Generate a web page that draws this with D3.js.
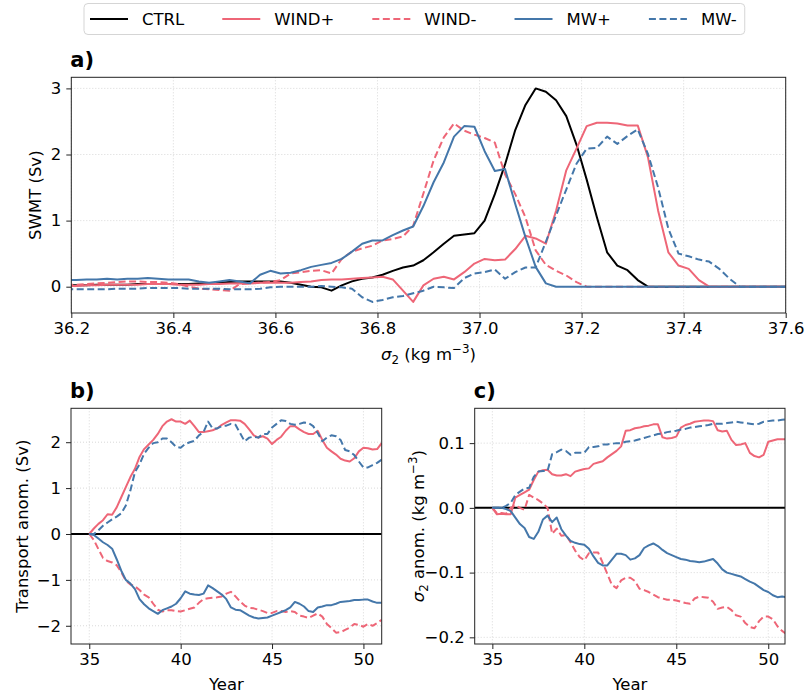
<!DOCTYPE html>
<html>
<head>
<meta charset="utf-8">
<script src="https://cdn.jsdelivr.net/npm/d3@7"></script>
<style>
  body { margin: 0; background: #fff; }
  svg text { font-family: "DejaVu Sans", sans-serif; fill: #000; }
</style>
</head>
<body>
<svg id="fig" width="806" height="693"></svg>
<script>
// ---- panel a: SWMT vs sigma2 ----
const sigma = [36.19, 36.21, 36.23, 36.25, 36.27, 36.29, 36.31, 36.33, 36.35, 36.37,
  36.39, 36.41, 36.43, 36.45, 36.47, 36.49, 36.51, 36.53, 36.55, 36.57,
  36.59, 36.61, 36.63, 36.65, 36.67, 36.69, 36.71, 36.73, 36.75, 36.77,
  36.79, 36.81, 36.83, 36.85, 36.87, 36.89, 36.91, 36.93, 36.95, 36.97,
  36.99, 37.01, 37.03, 37.05, 37.07, 37.09, 37.11, 37.13, 37.15, 37.17,
  37.19, 37.21, 37.23, 37.25, 37.27, 37.29, 37.31, 37.33, 37.35, 37.37,
  37.39, 37.41, 37.43, 37.45, 37.47, 37.49, 37.51, 37.53, 37.55, 37.57,
  37.59, 37.61];

const swmtCtrl = [0.02, 0.02, 0.02, 0.03, 0.03, 0.03, 0.03, 0.04, 0.04, 0.04,
  0.04, 0.04, 0.04, 0.05, 0.05, 0.06, 0.07, 0.08, 0.08, 0.08,
  0.08, 0.08, 0.06, 0.03, 0.0, -0.01, -0.06, 0.02, 0.08, 0.12,
  0.14, 0.18, 0.24, 0.29, 0.32, 0.40, 0.52, 0.65, 0.77, 0.79,
  0.81, 1.00, 1.40, 1.85, 2.37, 2.75, 3.00, 2.95, 2.82, 2.58,
  2.15, 1.62, 1.05, 0.52, 0.32, 0.25, 0.10, 0.0, 0, 0,
  0, 0, 0, 0, 0, 0, 0, 0, 0, 0,
  0, 0];

const swmtWindP = [0.01, 0.01, 0.02, 0.02, 0.03, 0.03, 0.03, 0.03, 0.04, 0.04,
  0.04, 0.03, 0.03, 0.03, 0.04, 0.04, 0.05, 0.05, 0.05, 0.06,
  0.06, 0.06, 0.06, 0.07, 0.08, 0.10, 0.11, 0.11, 0.12, 0.13,
  0.14, 0.15, 0.11, -0.06, -0.23, 0.02, 0.12, 0.15, 0.11, 0.22,
  0.35, 0.42, 0.40, 0.41, 0.57, 0.77, 0.73, 0.65, 1.15, 1.76,
  2.09, 2.43, 2.48, 2.48, 2.47, 2.44, 2.44, 1.96, 1.15, 0.52,
  0.32, 0.27, 0.10, 0.0, 0, 0, 0, 0, 0, 0,
  0, 0];

const swmtWindM = [0.03, 0.03, 0.04, 0.05, 0.06, 0.07, 0.08, 0.08, 0.07, 0.07,
  0.06, 0.04, 0.0, -0.03, -0.04, -0.05, -0.06, 0.04, 0.05, 0.06,
  0.07, 0.10, 0.20, 0.22, 0.24, 0.25, 0.20, 0.42, 0.53, 0.58,
  0.62, 0.70, 0.72, 0.76, 0.92, 1.41, 1.91, 2.26, 2.47, 2.36,
  2.30, 2.25, 2.18, 1.70, 1.40, 1.05, 0.55, 0.33, 0.24, 0.17,
  0.07, 0.0, 0, 0, 0, 0, 0, 0, 0, 0,
  0, 0, 0, 0, 0, 0, 0, 0, 0, 0,
  0, 0];

const swmtMwP = [0.10, 0.10, 0.11, 0.11, 0.12, 0.11, 0.12, 0.12, 0.13, 0.12,
  0.11, 0.11, 0.11, 0.08, 0.06, 0.08, 0.10, 0.08, 0.05, 0.18,
  0.24, 0.20, 0.21, 0.25, 0.30, 0.33, 0.36, 0.42, 0.53, 0.65,
  0.70, 0.70, 0.78, 0.85, 0.91, 1.22, 1.58, 1.88, 2.27, 2.43,
  2.42, 2.05, 1.75, 1.78, 1.25, 0.75, 0.30, 0.05, 0.0, 0,
  0, 0, 0, 0, 0, 0, 0, 0, 0, 0,
  0, 0, 0, 0, 0, 0, 0, 0, 0, 0,
  0, 0];

const swmtMwM = [-0.04, -0.04, -0.04, -0.04, -0.04, -0.03, -0.03, -0.03, -0.02, -0.02,
  -0.02, -0.02, -0.03, -0.03, -0.03, -0.03, -0.04, -0.04, -0.04, -0.03,
  -0.01, 0.0, 0.0, 0.0, 0.0, 0.01, 0.0, -0.01, -0.03, -0.16,
  -0.23, -0.20, -0.16, -0.14, -0.10, -0.06, 0.0, -0.01, -0.02, 0.13,
  0.20, 0.22, 0.26, 0.12, 0.22, 0.29, 0.29, 0.68, 1.08, 1.47,
  1.86, 2.09, 2.10, 2.27, 2.16, 2.28, 2.38, 2.01, 1.50, 0.88,
  0.50, 0.46, 0.41, 0.38, 0.27, 0.12, 0.0, 0, 0, 0,
  0, 0];

// ---- panels b and c: time series ----
const years = [35, 35.25, 35.5, 35.75, 36, 36.25, 36.5, 36.75,
  37, 37.25, 37.5, 37.75, 38, 38.25, 38.5, 38.75,
  39, 39.25, 39.5, 39.75, 40, 40.25, 40.5, 40.75,
  41, 41.25, 41.5, 41.75, 42, 42.25, 42.5, 42.75,
  43, 43.25, 43.5, 43.75, 44, 44.25, 44.5, 44.75,
  45, 45.25, 45.5, 45.75, 46, 46.25, 46.5, 46.75,
  47, 47.25, 47.5, 47.75, 48, 48.25, 48.5, 48.75,
  49, 49.25, 49.5, 49.75, 50, 50.25, 50.5, 50.75,
  51];

const transWindP = [0.0, 0.12, 0.22, 0.30, 0.43, 0.42, 0.58, 0.80,
  1.02, 1.24, 1.42, 1.68, 1.85, 1.95, 2.05, 2.18,
  2.35, 2.45, 2.50, 2.45, 2.45, 2.40, 2.47, 2.35,
  2.22, 2.22, 2.24, 2.26, 2.30, 2.38, 2.43, 2.48,
  2.48, 2.47, 2.40, 2.28, 2.15, 2.10, 2.13, 2.08,
  1.96, 2.05, 2.12, 2.25, 2.35, 2.35, 2.28, 2.22,
  2.18, 2.18, 2.25, 2.05, 1.88, 1.80, 1.73, 1.64,
  1.60, 1.58, 1.65, 1.80, 1.88, 1.87, 1.84, 1.85,
  1.98];

const transWindM = [0.0, -0.13, -0.33, -0.52, -0.59, -0.62, -0.68, -0.83,
  -1.02, -1.10, -1.14, -1.22, -1.32, -1.38, -1.52, -1.65,
  -1.69, -1.66, -1.66, -1.68, -1.69, -1.66, -1.63, -1.60,
  -1.50, -1.42, -1.40, -1.39, -1.38, -1.36, -1.30, -1.26,
  -1.36, -1.47, -1.56, -1.61, -1.62, -1.65, -1.68, -1.72,
  -1.72, -1.68, -1.68, -1.70, -1.68, -1.70, -1.78, -1.80,
  -1.83, -1.78, -1.73, -1.80, -1.96, -2.05, -2.15, -2.14,
  -2.09, -2.04, -1.96, -1.98, -2.02, -1.96, -2.00, -1.94,
  -1.87];

const transMwP = [0.0, -0.02, -0.10, -0.18, -0.24, -0.32, -0.55, -0.80,
  -1.00, -1.08, -1.20, -1.42, -1.53, -1.62, -1.68, -1.74,
  -1.66, -1.62, -1.58, -1.52, -1.40, -1.25, -1.30, -1.32,
  -1.33, -1.30, -1.12, -1.18, -1.25, -1.32, -1.42, -1.60,
  -1.65, -1.66, -1.72, -1.78, -1.82, -1.84, -1.83, -1.82,
  -1.78, -1.74, -1.70, -1.66, -1.60, -1.48, -1.52, -1.58,
  -1.68, -1.70, -1.60, -1.58, -1.55, -1.55, -1.52, -1.48,
  -1.47, -1.46, -1.44, -1.44, -1.43, -1.43, -1.47, -1.50,
  -1.50];

const transMwM = [0.0, 0.0, 0.08, 0.18, 0.25, 0.32, 0.38, 0.45,
  0.62, 0.95, 1.35, 1.52, 1.75, 1.88, 1.98, 2.00,
  2.08, 2.08, 2.00, 1.90, 1.88, 1.96, 2.00, 2.03,
  2.15, 2.22, 2.45, 2.30, 2.30, 2.35, 2.36, 2.40,
  2.38, 2.20, 2.02, 2.10, 2.12, 2.10, 2.18, 2.18,
  2.32, 2.40, 2.48, 2.46, 2.40, 2.38, 2.40, 2.43,
  2.42, 2.35, 2.20, 2.02, 2.10, 2.15, 2.13, 2.05,
  1.83, 1.80, 1.72, 1.58, 1.45, 1.45, 1.50, 1.55,
  1.62];

const densWindP = [0.0, -0.010, -0.009, -0.010, -0.010, 0.016, 0.020, 0.024,
  0.028, 0.043, 0.056, 0.058, 0.059, 0.052, 0.050, 0.050,
  0.052, 0.049, 0.056, 0.058, 0.060, 0.061, 0.068, 0.070,
  0.072, 0.078, 0.083, 0.088, 0.095, 0.119, 0.120, 0.123,
  0.124, 0.126, 0.127, 0.129, 0.129, 0.109, 0.107, 0.108,
  0.110, 0.124, 0.128, 0.130, 0.133, 0.134, 0.135, 0.135,
  0.134, 0.120, 0.118, 0.119, 0.105, 0.097, 0.098, 0.100,
  0.085, 0.080, 0.078, 0.082, 0.102, 0.104, 0.106, 0.106,
  0.106];

const densWindM = [0.0, -0.008, -0.008, -0.009, 0.0, 0.004, 0.0, -0.003,
  0.020, 0.016, 0.012, 0.007, 0.0, -0.040, -0.032, -0.043,
  -0.042, -0.053, -0.066, -0.076, -0.081, -0.070, -0.069, -0.069,
  -0.085, -0.102, -0.119, -0.124, -0.112, -0.108, -0.108, -0.113,
  -0.125, -0.127, -0.130, -0.134, -0.138, -0.140, -0.142, -0.142,
  -0.143, -0.145, -0.147, -0.148, -0.140, -0.137, -0.138, -0.139,
  -0.145, -0.156, -0.154, -0.153, -0.158, -0.166, -0.168, -0.178,
  -0.184, -0.186, -0.175, -0.168, -0.168, -0.172, -0.183, -0.190,
  -0.195];

const densMwP = [0.0, 0.0, 0.0, -0.002, -0.005, -0.015, -0.025, -0.031,
  -0.045, -0.048, -0.037, -0.018, -0.012, -0.022, -0.015, -0.033,
  -0.043, -0.051, -0.054, -0.056, -0.057, -0.063, -0.075, -0.085,
  -0.089, -0.089, -0.080, -0.071, -0.071, -0.073, -0.080, -0.078,
  -0.073, -0.062, -0.058, -0.055, -0.059, -0.065, -0.070, -0.073,
  -0.076, -0.079, -0.080, -0.082, -0.083, -0.084, -0.083, -0.081,
  -0.079, -0.086, -0.095, -0.100, -0.102, -0.104, -0.106, -0.110,
  -0.114, -0.117, -0.122, -0.127, -0.130, -0.135, -0.138, -0.137,
  -0.138];

const densMwM = [0.0, 0.0, 0.0, 0.003, 0.008, 0.020, 0.025, 0.030,
  0.031, 0.048, 0.056, 0.057, 0.057, 0.083, 0.086, 0.090,
  0.088, 0.082, 0.085, 0.085, 0.085, 0.094, 0.094, 0.095,
  0.098, 0.098, 0.099, 0.100, 0.100, 0.102, 0.103, 0.104,
  0.106, 0.108, 0.110, 0.112, 0.114, 0.115, 0.117, 0.118,
  0.119, 0.121, 0.122, 0.124, 0.125, 0.126, 0.127, 0.128,
  0.130, 0.130, 0.130, 0.131, 0.132, 0.133, 0.132, 0.131,
  0.130, 0.129, 0.130, 0.133, 0.134, 0.135, 0.135, 0.136,
  0.137];

const runNames = ['CTRL', 'WIND+', 'WIND-', 'MW+', 'MW-'];
const sigmaTicks = [36.2, 36.4, 36.6, 36.8, 37.0, 37.2, 37.4, 37.6];
const swmtTicks = [0, 1, 2, 3];
const yearTicks = [35, 40, 45, 50];
const transTicks = [-2, -1, 0, 1, 2];
const densTicks = [-0.2, -0.1, 0.0, 0.1];

// run styles
const RED = '#EE6677', BLUE = '#4477AA';
const style = {
  'CTRL':  { color: '#000', dash: null },
  'WIND+': { color: RED, dash: null },
  'WIND-': { color: RED, dash: '7,3.5' },
  'MW+':   { color: BLUE, dash: null },
  'MW-':   { color: BLUE, dash: '7,3.5' }
};

const FS = 16.5;
const svg = d3.select('#fig');
let clipId = 0;

// text with math-ish parts: {t, it, sub, sup}
function richText(sel, parts) {
  let shift = 0;
  parts.forEach(p => {
    const target = p.sub ? 4 : p.sup ? -7 : 0;
    const ts = sel.append('tspan').text(p.t).attr('dy', target - shift);
    shift = target;
    if (p.sub || p.sup) ts.attr('font-size', FS * 0.72);
    if (p.it) ts.attr('font-style', 'italic');
  });
}

function drawPanel(cfg) {
  const x = d3.scaleLinear().domain(cfg.xDomain).range([cfg.left, cfg.right]);
  const y = d3.scaleLinear().domain(cfg.yDomain).range([cfg.bottom, cfg.top]);
  const g = svg.append('g');

  // dotted grid
  g.append('g').selectAll('line').data(cfg.xTicks).join('line')
    .attr('x1', d => x(d)).attr('x2', d => x(d))
    .attr('y1', cfg.top).attr('y2', cfg.bottom)
    .attr('stroke', '#cfcfcf').attr('stroke-width', 0.8).attr('stroke-dasharray', '1,2');
  g.append('g').selectAll('line').data(cfg.yTicks).join('line')
    .attr('y1', d => y(d)).attr('y2', d => y(d))
    .attr('x1', cfg.left).attr('x2', cfg.right)
    .attr('stroke', '#cfcfcf').attr('stroke-width', 0.8).attr('stroke-dasharray', '1,2');

  const id = 'clip' + (clipId++);
  g.append('clipPath').attr('id', id).append('rect')
    .attr('x', cfg.left).attr('y', cfg.top)
    .attr('width', cfg.right - cfg.left).attr('height', cfg.bottom - cfg.top);
  const plot = g.append('g').attr('clip-path', `url(#${id})`);

  if (cfg.zeroLine) {
    plot.append('line')
      .attr('x1', cfg.left).attr('x2', cfg.right)
      .attr('y1', y(0)).attr('y2', y(0))
      .attr('stroke', '#000').attr('stroke-width', 2);
  }

  const line = d3.line().x((d, i) => x(cfg.xVals[i])).y(d => y(d));
  cfg.series.forEach(s => {
    const st = style[s.name];
    plot.append('path')
      .datum(s.values)
      .attr('d', line)
      .attr('fill', 'none')
      .attr('stroke', st.color)
      .attr('stroke-width', 2)
      .attr('stroke-linejoin', 'round')
      .attr('stroke-dasharray', st.dash);
  });

  // axes
  const xa = g.append('g').attr('transform', `translate(0,${cfg.bottom})`)
    .call(d3.axisBottom(x).tickValues(cfg.xTicks).tickFormat(cfg.xFmt).tickSize(5).tickPadding(4));
  const ya = g.append('g').attr('transform', `translate(${cfg.left},0)`)
    .call(d3.axisLeft(y).tickValues(cfg.yTicks).tickFormat(cfg.yFmt).tickSize(5).tickPadding(5));
  [xa, ya].forEach(a => {
    a.select('.domain').remove();
    a.selectAll('.tick line').attr('stroke', '#222');
    a.selectAll('.tick text').attr('font-size', FS).attr('font-family', 'DejaVu Sans');
  });

  g.append('rect')
    .attr('x', cfg.left).attr('y', cfg.top)
    .attr('width', cfg.right - cfg.left).attr('height', cfg.bottom - cfg.top)
    .attr('fill', 'none').attr('stroke', '#222').attr('stroke-width', 1);

  // labels
  const xl = g.append('text').attr('x', (cfg.left + cfg.right) / 2).attr('y', cfg.xLabelY)
    .attr('text-anchor', 'middle').attr('font-size', FS);
  richText(xl, cfg.xLabel);
  const yl = g.append('text')
    .attr('transform', `translate(${cfg.yLabelX},${(cfg.top + cfg.bottom) / 2}) rotate(-90)`)
    .attr('text-anchor', 'middle').attr('font-size', FS);
  richText(yl, cfg.yLabel);

  g.append('text').attr('x', cfg.left - 1).attr('y', cfg.top - 10)
    .attr('font-size', 21).attr('font-weight', 'bold').text(cfg.tag);
}

drawPanel({
  tag: 'a)',
  left: 71.3, right: 785.7, top: 77.3, bottom: 313,
  xDomain: [36.2, 37.6], yDomain: [-0.398, 3.168],
  xTicks: sigmaTicks, yTicks: swmtTicks,
  xFmt: d3.format('.1f'), yFmt: d3.format('d'),
  xVals: sigma,
  series: [
    { name: 'CTRL', values: swmtCtrl },
    { name: 'WIND+', values: swmtWindP },
    { name: 'WIND-', values: swmtWindM },
    { name: 'MW+', values: swmtMwP },
    { name: 'MW-', values: swmtMwM }
  ],
  xLabelY: 360,
  xLabel: [{ t: 'σ', it: true }, { t: '2', sub: true }, { t: ' (kg m' }, { t: '−3', sup: true }, { t: ')' }],
  yLabelX: 41,
  yLabel: [{ t: 'SWMT (Sv)' }]
});

drawPanel({
  tag: 'b)',
  left: 71, right: 381.7, top: 408.3, bottom: 644,
  xDomain: [34, 51], yDomain: [-2.397, 2.739],
  xTicks: yearTicks, yTicks: transTicks,
  xFmt: d3.format('d'), yFmt: d3.format('d'),
  xVals: years,
  zeroLine: true,
  series: [
    { name: 'WIND+', values: transWindP },
    { name: 'WIND-', values: transWindM },
    { name: 'MW+', values: transMwP },
    { name: 'MW-', values: transMwM }
  ],
  xLabelY: 690,
  xLabel: [{ t: 'Year' }],
  yLabelX: 28,
  yLabel: [{ t: 'Transport anom. (Sv)' }]
});

drawPanel({
  tag: 'c)',
  left: 474.7, right: 785, top: 408.3, bottom: 644,
  xDomain: [34.04, 50.91], yDomain: [-0.2103, 0.1538],
  xTicks: yearTicks, yTicks: densTicks,
  xFmt: d3.format('d'), yFmt: d3.format('.1f'),
  xVals: years,
  zeroLine: true,
  series: [
    { name: 'WIND+', values: densWindP },
    { name: 'WIND-', values: densWindM },
    { name: 'MW+', values: densMwP },
    { name: 'MW-', values: densMwM }
  ],
  xLabelY: 690,
  xLabel: [{ t: 'Year' }],
  yLabelX: 424,
  yLabel: [{ t: 'σ', it: true }, { t: '2', sub: true }, { t: ' anom. (kg m' }, { t: '−3', sup: true }, { t: ')' }]
});

// legend across the top
const leg = svg.append('g');
const legBox = leg.append('rect');
let lx = 90;
const ly = 19;
runNames.forEach(name => {
  const st = style[name];
  leg.append('line').attr('x1', lx).attr('x2', lx + 38).attr('y1', ly).attr('y2', ly)
    .attr('stroke', st.color).attr('stroke-width', 2).attr('stroke-dasharray', st.dash);
  const t = leg.append('text').attr('x', lx + 52).attr('y', ly + 6)
    .attr('font-size', FS).text(name);
  lx = lx + 52 + t.node().getComputedTextLength() + 38;
});
legBox.attr('x', 84).attr('y', 3.5).attr('width', lx - 38 + 8 - 84).attr('height', 31)
  .attr('rx', 4).attr('fill', '#fff').attr('stroke', '#d5d5d5').attr('stroke-width', 1);
</script>
</body>
</html>
